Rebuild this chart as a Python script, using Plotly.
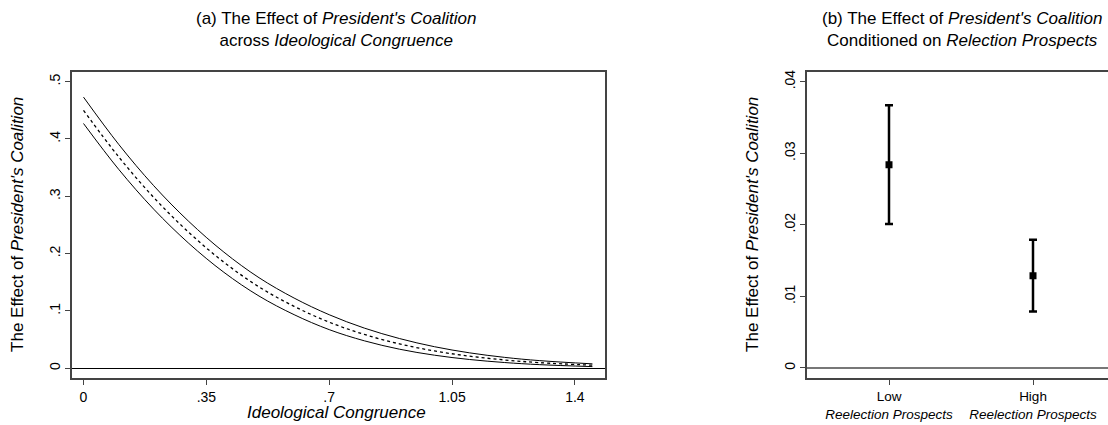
import plotly.graph_objects as go

# ---------------- data ----------------
# Panel (a): effect of President's Coalition across Ideological Congruence
congruence = [0, 0.1, 0.2, 0.3, 0.4, 0.5, 0.6, 0.7, 0.8, 0.9, 1.0, 1.1, 1.2, 1.3, 1.45]
effect_mid = [0.450, 0.369, 0.298, 0.237, 0.185, 0.142, 0.108, 0.0804, 0.059, 0.0426,
              0.0302, 0.0211, 0.0145, 0.0098, 0.0053]
effect_upper = [0.473, 0.3908, 0.3185, 0.2561, 0.2026, 0.158, 0.1225, 0.0934, 0.0701, 0.0519,
                0.0376, 0.0269, 0.019, 0.0133, 0.0077]
effect_lower = [0.427, 0.3472, 0.2775, 0.2179, 0.1674, 0.126, 0.0935, 0.0674, 0.0479, 0.0333,
                0.0228, 0.0153, 0.010, 0.0063, 0.0029]
a_xticks = [0, 0.35, 0.7, 1.05, 1.4]
a_xticklabels = ["0", ".35", ".7", "1.05", "1.4"]
a_yticks = [0, 0.1, 0.2, 0.3, 0.4, 0.5]
a_yticklabels = ["0", ".1", ".2", ".3", ".4", ".5"]

# Panel (b): effect conditioned on reelection prospects
prospects_pos = [1, 2]
prospects_labels = ["Low<br><i>Reelection Prospects</i>", "High<br><i>Reelection Prospects</i>"]
b_estimate = [0.0284, 0.0129]
b_lower = [0.0201, 0.0079]
b_upper = [0.0367, 0.0179]
b_yticks = [0, 0.01, 0.02, 0.03, 0.04]
b_yticklabels = ["0", ".01", ".02", ".03", ".04"]

# ---------------- figure ----------------
W, H = 1108, 425
FONT = "Liberation Sans, Arial, sans-serif"
AXC = "#444444"

fig = go.Figure()

# panel (a)
fig.add_trace(go.Scatter(x=congruence, y=effect_upper, mode="lines", line=dict(color="black", width=1, shape="spline"),
                         xaxis="x", yaxis="y", showlegend=False, hoverinfo="skip"))
fig.add_trace(go.Scatter(x=congruence, y=effect_lower, mode="lines", line=dict(color="black", width=1, shape="spline"),
                         xaxis="x", yaxis="y", showlegend=False, hoverinfo="skip"))
fig.add_trace(go.Scatter(x=congruence, y=effect_mid, mode="lines", line=dict(color="black", width=1.3, dash="dot", shape="spline"),
                         xaxis="x", yaxis="y", showlegend=False))

# panel (b)
err_plus = [u - e for u, e in zip(b_upper, b_estimate)]
err_minus = [e - l for e, l in zip(b_estimate, b_lower)]
fig.add_trace(go.Scatter(x=prospects_pos, y=b_estimate, mode="markers",
                         marker=dict(symbol="square", size=7, color="black"),
                         error_y=dict(type="data", array=err_plus, arrayminus=err_minus,
                                      color="black", thickness=2.5, width=4),
                         xaxis="x2", yaxis="y2", showlegend=False))

y_dom = [1 - 378 / H, 1 - 70 / H]

common_axis = dict(showgrid=False, showline=True, linecolor=AXC, linewidth=1.5,
                   ticks="outside", ticklen=5, tickcolor=AXC, tickwidth=1,
                   tickfont=dict(family=FONT, size=14, color="black"))

fig.update_layout(
    width=W, height=H,
    margin=dict(l=0, r=0, t=0, b=0),
    paper_bgcolor="white", plot_bgcolor="white",
    font=dict(family=FONT, color="black"),
    xaxis=dict(domain=[72 / W, 605 / W], range=[-0.0328, 1.4858], tickvals=a_xticks,
               ticktext=a_xticklabels, mirror=True, zeroline=False, **common_axis),
    yaxis=dict(domain=y_dom, range=[-0.01736, 0.5174], tickvals=a_yticks, ticktext=a_yticklabels,
               tickangle=-90, mirror=True, zeroline=True, zerolinecolor="black", zerolinewidth=1.2,
               **common_axis),
    xaxis2=dict(domain=[807 / W, 1.0], range=[0.4306, 2.5208], tickvals=prospects_pos,
                ticktext=prospects_labels, mirror=True, zeroline=False,
                **{**common_axis, "tickfont": dict(family=FONT, size=13.5, color="black")}),
    yaxis2=dict(domain=y_dom, range=[-0.00143, 0.0414], tickvals=b_yticks, ticktext=b_yticklabels,
                tickangle=-90, anchor="x2", mirror=False, zeroline=True, zerolinecolor="#777777",
                zerolinewidth=2, **common_axis),
)
fig.update_layout(xaxis2_anchor="y2")

# titles & axis titles
ann = [
    dict(x=336 / W, y=1 - 28 / H, text="(a) The Effect of <i>President's Coalition</i><br>across <i>Ideological Congruence</i>",
         font=dict(size=17)),
    dict(x=962 / W, y=1 - 28 / H, text="(b) The Effect of <i>President's Coalition</i><br>Conditioned on <i>Relection Prospects</i>",
         font=dict(size=17)),
    dict(x=336 / W, y=1 - 412 / H, text="<i>Ideological Congruence</i>", font=dict(size=17)),
    dict(x=18 / W, y=1 - 224 / H, text="The Effect of <i>President's Coalition</i>", textangle=-90, font=dict(size=17)),
    dict(x=753 / W, y=1 - 224 / H, text="The Effect of <i>President's Coalition</i>", textangle=-90, font=dict(size=17)),
]
for a in ann:
    a.update(xref="paper", yref="paper", xanchor="center", yanchor="middle", showarrow=False)
    a["font"].update(family=FONT, color="black")
fig.update_layout(annotations=ann)

fig.write_html("out.html")
